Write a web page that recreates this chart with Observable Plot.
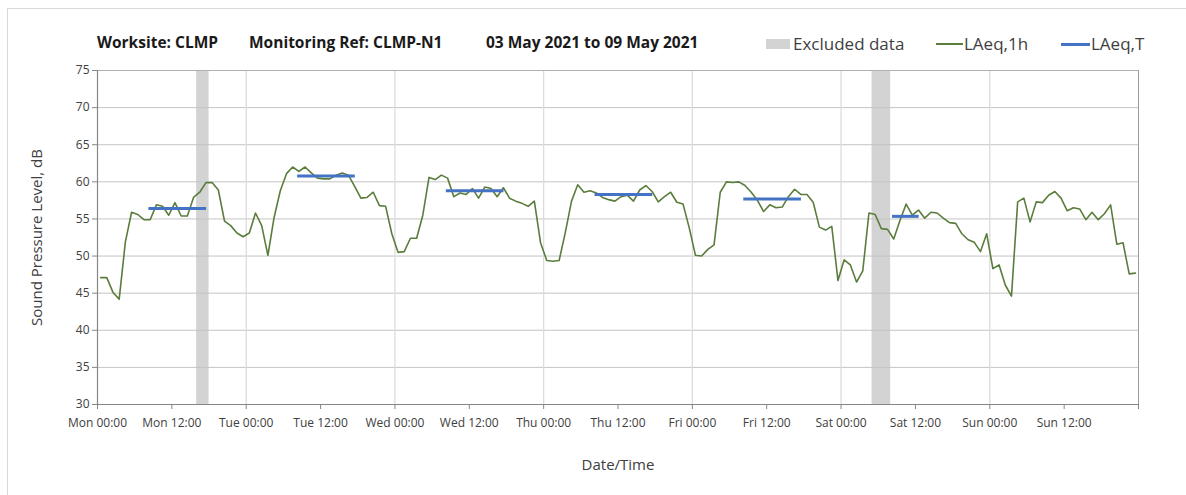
<!DOCTYPE html>
<html><head><meta charset="utf-8">
<script src="https://cdn.jsdelivr.net/npm/d3@7"></script>
<script src="https://cdn.jsdelivr.net/npm/@observablehq/plot@0.6"></script>
<style>
body{margin:0;background:#fff;font-family:"Open Sans",Lato,sans-serif;}
#wrap{position:relative;width:1186px;height:495px;overflow:hidden;}
#border{position:absolute;left:7px;top:8px;width:1300px;height:600px;border:1px solid #d9d9d9;pointer-events:none;}
#head{position:relative;height:55px;}
.t{position:absolute;top:32px;font-weight:bold;font-size:15.5px;color:#1a1a1a;white-space:nowrap;line-height:20px;}
.lg{position:absolute;top:34px;font-size:17px;color:#404040;white-space:nowrap;line-height:20px;}
.sw{position:absolute;}
#chart svg{display:block;}
</style></head>
<body>
<div id="wrap">
<div id="border"></div>
<div id="head">
  <span class="t" style="left:97px">Worksite: CLMP</span>
  <span class="t" style="left:249px">Monitoring Ref: CLMP-N1</span>
  <span class="t" style="left:486px">03 May 2021 to 09 May 2021</span>
  <span class="sw" style="left:766px;top:39px;width:24px;height:10px;background:#d3d3d3"></span>
  <span class="lg" style="left:793px">Excluded data</span>
  <span class="sw" style="left:936px;top:43px;width:27px;height:1.5px;background:#5a7d3c"></span>
  <span class="lg" style="left:964px">LAeq,1h</span>
  <span class="sw" style="left:1061px;top:42.5px;width:29px;height:3px;background:#4472c4"></span>
  <span class="lg" style="left:1091px">LAeq,T</span>
</div>
<div id="chart"></div>
</div>
<script>
// Hourly LAeq,1h values, Mon 00:00 to Sun 23:00 (one per hour)
const laeq1h = [
  47.1, 47.1, 45.1, 44.2, 51.9, 55.9, 55.6, 54.9, 54.9, 56.9,
  56.7, 55.5, 57.2, 55.4, 55.4, 57.9, 58.6, 59.9, 59.9, 58.9,
  54.7, 54.1, 53.1, 52.6, 53.1, 55.8, 54.1, 50.1, 55.2, 58.8,
  61.1, 62.0, 61.4, 62.0, 61.2, 60.5, 60.4, 60.4, 60.9, 61.2,
  60.9, 59.4, 57.8, 57.9, 58.6, 56.8,
  56.7, 53.0, 50.5, 50.6, 52.4, 52.4, 55.5, 60.6, 60.3, 60.9,
  60.5, 58.0, 58.5, 58.3, 59.1, 57.8, 59.3, 59.1, 58.0, 59.2,
  57.8, 57.4, 57.1, 56.7, 57.4, 51.8, 49.4, 49.3, 49.4, 53.2,
  57.4, 59.6, 58.6, 58.8, 58.5, 57.9, 57.6, 57.4, 58.0, 58.2,
  57.4, 58.9, 59.5, 58.7, 57.3, 58.0, 58.6,
  57.25, 57.0, 53.8, 50.1, 50.0, 50.9, 51.5, 58.6, 60.0, 59.9,
  60.0, 59.5, 58.6, 57.5, 56.0, 56.9, 56.5, 56.6, 58.0, 59.0,
  58.3, 58.3, 57.25, 53.9, 53.5, 54.0, 46.7, 49.5, 48.8, 46.5,
  48.0, 55.8, 55.6, 53.7, 53.6, 52.3, 54.8, 57.0, 55.5, 56.2,
  55.1, 55.9, 55.8, 55.1, 54.5, 54.4, 53.0,
  52.2, 51.85, 50.6, 53.0, 48.3, 48.8, 46.1, 44.6, 57.3, 57.8,
  54.6, 57.3, 57.2, 58.2, 58.7, 57.8, 56.1, 56.5, 56.35, 54.9,
  55.9, 54.9, 55.7, 56.9, 51.6, 51.8, 47.6, 47.7
];
// LAeq,T periods (hours from Mon 00:00)
const periodStart = [8.3, 32.3, 56.3, 80.3, 104.3, 128.3];
const periodEnd   = [17.6, 41.6, 65.6, 89.6, 113.6, 132.6];
const laeqT       = [56.4, 60.8, 58.8, 58.3, 57.7, 55.35];
// Excluded data (hours from Mon 00:00)
const excludedStart = [16, 125];
const excludedEnd   = [18, 128];
// Axis ticks
const xTickHours = [0, 12, 24, 36, 48, 60, 72, 84, 96, 108, 120, 132, 144, 156, 168];
const xTickLabels = ["Mon 00:00","Mon 12:00","Tue 00:00","Tue 12:00","Wed 00:00","Wed 12:00",
  "Thu 00:00","Thu 12:00","Fri 00:00","Fri 12:00","Sat 00:00","Sat 12:00","Sun 00:00","Sun 12:00",""];
const dayGridHours = [24, 48, 72, 96, 120, 144];
const yTicks = [30, 35, 40, 45, 50, 55, 60, 65, 70, 75];

const lineData = laeq1h.map((v, i) => ({t: i + 0.5, v}));
const periods = laeqT.map((v, i) => ({x1: periodStart[i], x2: periodEnd[i], v}));
const excluded = excludedStart.map((s, i) => ({x1: s, x2: excludedEnd[i]}));

const chart = Plot.plot({
  width: 1186,
  height: 440,
  marginLeft: 97,
  marginRight: 48,
  marginTop: 15,
  marginBottom: 91,
  style: {fontFamily: '"Open Sans", Lato, sans-serif', fontSize: "12px", color: "#404040", background: "transparent"},
  x: {domain: [0, 168]},
  y: {domain: [30, 75]},
  marks: [
    Plot.rect(excluded, {x1: "x1", x2: "x2", fill: "#d3d3d3"}),
    Plot.ruleY(yTicks, {stroke: "#c4c4c4", strokeWidth: 1}),
    Plot.ruleX(dayGridHours, {stroke: "#dcdcdc", strokeWidth: 1.3}),
    Plot.ruleX([168], {stroke: "#9a9a9a", strokeWidth: 1, y1: 30, y2: 75}),
    Plot.ruleY([75], {stroke: "#b0b0b0", strokeWidth: 1}),
    Plot.axisY({ticks: yTicks, tickSize: 5, tickPadding: 3, stroke: "#868686", fill: "#404040",
      label: "Sound Pressure Level, dB", labelArrow: "none", labelAnchor: "center", labelOffset: 66}),
    Plot.axisX({ticks: xTickHours, tickFormat: (d) => xTickLabels[xTickHours.indexOf(d)],
      tickSize: 5, tickPadding: 9, stroke: "#868686", fill: "#404040",
      label: "Date/Time", labelArrow: "none", labelAnchor: "center", labelOffset: 65}),
    Plot.ruleX([0], {stroke: "#868686", strokeWidth: 1.2}),
    Plot.ruleY([30], {stroke: "#868686", strokeWidth: 1.2}),
    Plot.line(lineData, {x: "t", y: "v", stroke: "#5a7d3c", strokeWidth: 1.6}),
    Plot.ruleY(periods, {x1: "x1", x2: "x2", y: "v", stroke: "#4472c4", strokeWidth: 3})
  ]
});
document.getElementById("chart").appendChild(chart);
// axis titles: larger, no arrows
chart.querySelectorAll("g[aria-label='y-axis label'] text, g[aria-label='x-axis label'] text").forEach(t => {
  t.style.fontSize = "15px";
  t.textContent = t.textContent.replace(/[\u2190-\u2193]/g, "").trim();
});
</script>
</body></html>
